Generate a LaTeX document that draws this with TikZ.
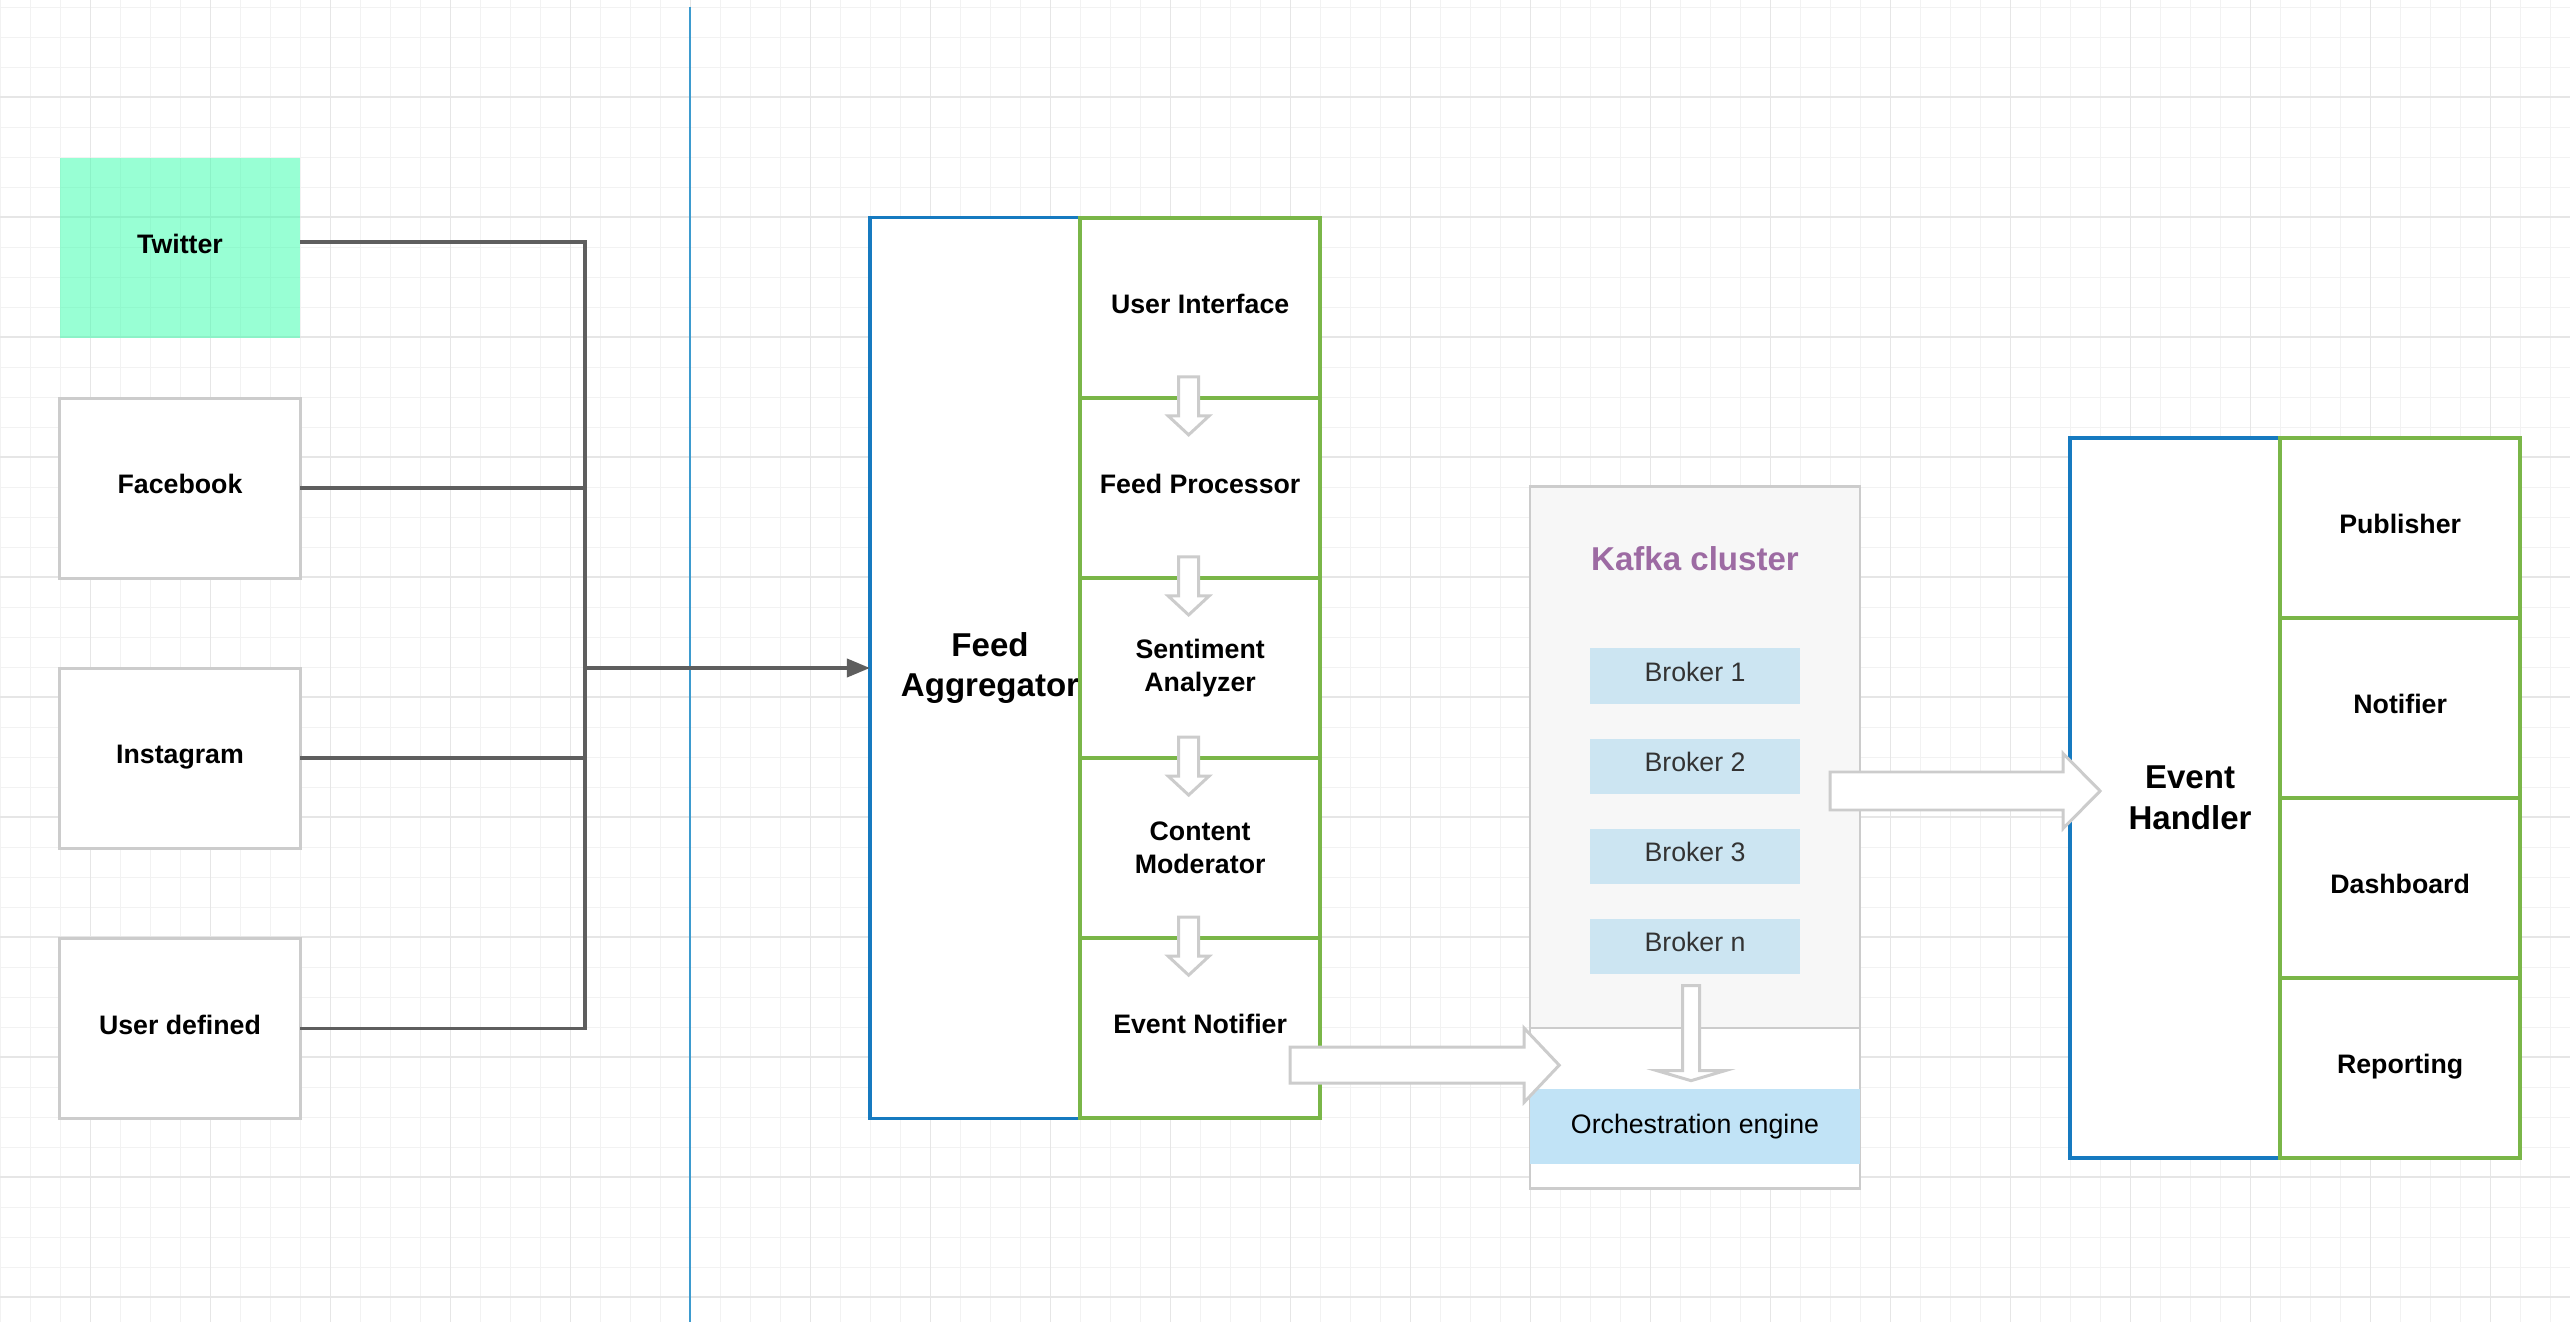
\documentclass[tikz,border=0pt]{standalone}
\usepackage{fontspec}
\setmainfont{Liberation Sans}
\usetikzlibrary{arrows.meta,positioning,calc}

\definecolor{gridminor}{RGB}{242,242,242}
\definecolor{gridmajor}{RGB}{230,230,230}
\definecolor{divblue}{RGB}{61,155,207}
\definecolor{boxblue}{RGB}{22,122,192}
\definecolor{cellgreen}{RGB}{122,182,72}
\definecolor{linegray}{RGB}{94,94,94}
\definecolor{edgegray}{RGB}{204,204,204}
\definecolor{mint}{RGB}{51,255,170}
\definecolor{kafkabg}{RGB}{247,247,247}
\definecolor{brokerblue}{RGB}{204,229,242}
\definecolor{orchblue}{RGB}{193,227,246}
\definecolor{kafkapurple}{RGB}{157,107,163}
\definecolor{brokertext}{RGB}{51,51,51}

\begin{document}
\begin{tikzpicture}[
        x = 0.01cm, y = -0.01cm, % one unit = one pixel of the sketch
        > = {Triangle[length=2.3mm, width=1.8mm]}, % arrow head style
        font = \fontsize{7.6}{9.3}\selectfont\bfseries,
        inner sep = 0pt,
        outer sep = 0pt,
        pics/blockarrow/.style args={#1/#2/#3/#4}{code={
            \draw[hollow] (0,-#3) -- (#1,-#3) -- (#1,-#4) -- (#1+#2,0)
                -- (#1,#4) -- (#1,#3) -- (0,#3) -- cycle;
        }}
    ]

    \tikzstyle{oneline}=[text height = 5.5pt, text depth = 2.3pt]
    \tikzstyle{source}=[
        oneline,
        draw = edgegray,
        line width = 0.85pt,
        fill = white,
        minimum width = 2.4cm,
        minimum height = 1.8cm
    ]
    \tikzstyle{hub}=[
        draw = boxblue,
        line width = 1pt,
        fill = white,
        minimum width = 2.1cm
    ]
    \tikzstyle{hubtext}=[
        align = center,
        xshift = 0.15cm,
        font = \fontsize{9.4}{11.6}\selectfont\bfseries
    ]
    \tikzstyle{cell}=[
        draw = cellgreen,
        line width = 1.1pt,
        fill = white,
        align = center,
        minimum width = 2.4cm,
        minimum height = 1.8cm
    ]
    \tikzstyle{broker}=[
        oneline,
        fill = brokerblue,
        text = brokertext,
        minimum width = 2.1cm,
        minimum height = 0.55cm,
        font = \fontsize{7.6}{9.3}\selectfont
    ]
    \tikzstyle{link}=[draw = linegray, line width = 1.1pt]
    \tikzstyle{hollow}=[draw = edgegray, line width = 0.85pt, fill = white]

    % page and grid
    \useasboundingbox (0,0) rectangle (2570,1322);
    \fill[white] (0,0) rectangle (2570,1322);
    \foreach \gx in {0,...,85}
        \draw[gridminor, line width=0.25pt] (\gx*30+0.7,0) -- (\gx*30+0.7,1322);
    \foreach \gy in {0,...,43}
        \draw[gridminor, line width=0.25pt] (0,\gy*30+7) -- (2570,\gy*30+7);
    \foreach \gx in {0,...,20}
        \draw[gridmajor, line width=0.35pt] (\gx*120+90.7,0) -- (\gx*120+90.7,1322);
    \foreach \gy in {0,...,10}
        \draw[gridmajor, line width=0.35pt] (0,\gy*120+97) -- (2570,\gy*120+97);

    \draw[divblue, line width=0.6pt] (690,7) -- (690,1322);

    % sources
    \node[source, draw=none, fill=mint, fill opacity=0.5, text opacity=1] (tw) at (180,248) {Twitter};
    \node[source] (fb) [below=0.6cm of tw] {Facebook};
    \node[source] (ig) [below=0.9cm of fb] {Instagram};
    \node[source] (ud) [below=0.9cm of ig] {User defined};

    % feed aggregator
    \node[hub, minimum height=9cm, label={[hubtext]center:Feed\\Aggregator}] (fa) at (975,668) {};
    \node[cell, oneline, anchor=north west] (ui) at (fa.north east) {User Interface};
    \node[cell, oneline] (fp) [below=0pt of ui] {Feed Processor};
    \node[cell] (sa) [below=0pt of fp] {Sentiment\\Analyzer};
    \node[cell] (cm) [below=0pt of sa] {Content\\Moderator};
    \node[cell, oneline] (en) [below=0pt of cm] {Event Notifier};

    % kafka
    \node[draw=edgegray, line width=0.75pt, fill=white, minimum width=3.3cm, minimum height=7.01cm] (kafka) at (1695,837.5) {};
    \node[draw=edgegray, line width=0.75pt, fill=kafkabg, minimum width=3.3cm, minimum height=5.41cm, anchor=north] (ktop) at (kafka.north) {};
    \node[text=kafkapurple, font=\fontsize{9.4}{11.6}\selectfont\bfseries] (ktitle) at (1695,559) {Kafka cluster};
    \node[broker] (b1) at (1695,676) {Broker 1};
    \node[broker] (b2) [below=0.35cm of b1] {Broker 2};
    \node[broker] (b3) [below=0.35cm of b2] {Broker 3};
    \node[broker] (bn) [below=0.35cm of b3] {Broker n};
    \node[fill=orchblue, minimum width=3.3cm, minimum height=0.75cm, font=\fontsize{7.6}{9.3}\selectfont] (orch) at (1695,1126.5) {Orchestration engine};

    % event handler
    \node[hub, minimum height=7.2cm, label={[hubtext]center:Event\\Handler}] (eh) at (2175,798) {};
    \node[cell, oneline, anchor=north west] (pub) at (eh.north east) {Publisher};
    \node[cell, oneline] (notif) [below=0pt of pub] {Notifier};
    \node[cell, oneline] (dash) [below=0pt of notif] {Dashboard};
    \node[cell, oneline] (rep) [below=0pt of dash] {Reporting};

    % connectors
    \coordinate (bus) at ($(fa.west)+(-285,0)$);
    \draw[link] ($(tw.east)+(0,-6)$) -| (bus);
    \draw[link] (fb.east) -| (bus);
    \draw[link] (ig.east) -| (bus);
    \draw[link] (ud.east) -| (bus);
    \draw[link, ->] (bus) -- (fa.west);

    \foreach \cell in {ui,fp,sa,cm}
        \pic[rotate=-90] at ($(\cell.south)+(-11.5,-21)$) {blockarrow=39/19/10/20.5};
    \pic[rotate=-90] at ($(bn.south)+(-4,12)$) {blockarrow=85/10/8.5/34};
    \pic at ($(en.east)+(-30,37)$) {blockarrow=234/35/18/37};
    \pic at ($(kafka.east)+(-30,-46.5)$) {blockarrow=233/37/19/37.5};
\end{tikzpicture}
\end{document}
